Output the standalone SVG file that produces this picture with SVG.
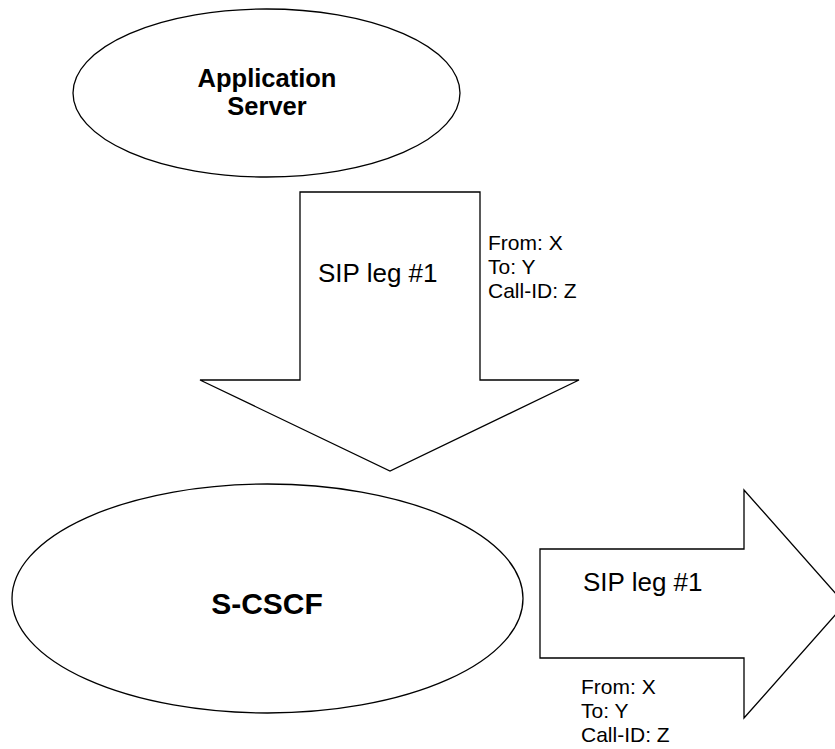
<svg xmlns="http://www.w3.org/2000/svg" width="835" height="749" viewBox="0 0 835 749">
  <style>
    .shape { fill: #ffffff; stroke: #000000; stroke-width: 1.3; }
    .bold { font-family: "Liberation Sans", Arial, sans-serif; font-weight: bold; fill: #000000; text-anchor: middle; }
    .lbl { font-family: "Liberation Sans", Arial, sans-serif; fill: #000000; }
    .big { font-size: 26px; }
    .small { font-size: 21px; }
  </style>
  <rect width="835" height="749" fill="#ffffff"/>
  <g id="node-application-server">
    <ellipse class="shape" cx="266.5" cy="93" rx="193.5" ry="84"/>
    <text class="bold" x="267" y="87" font-size="25.5">Application</text>
    <text class="bold" x="267" y="115" font-size="25.5">Server</text>
  </g>
  <g id="node-s-cscf">
    <ellipse class="shape" cx="267.5" cy="598.5" rx="255.5" ry="114.5"/>
    <text class="bold" x="267" y="614" font-size="30">S-CSCF</text>
  </g>
  <g id="connectors">
    <g id="arrow-down">
      <polygon class="shape" points="300,192 480,192 480,380 579,380 390,471 200,380 300,380"/>
      <text class="lbl big" x="318" y="282">SIP leg #1</text>
      <text class="lbl small" x="488" y="250">From: X</text>
      <text class="lbl small" x="488" y="274">To: Y</text>
      <text class="lbl small" x="488" y="298">Call-ID: Z</text>
    </g>
    <g id="arrow-right">
      <polygon class="shape" points="540,549 744,549 744,490 845,604 744,718 744,658 540,658"/>
      <text class="lbl big" x="583" y="591">SIP leg #1</text>
      <text class="lbl small" x="581" y="694">From: X</text>
      <text class="lbl small" x="581" y="718">To: Y</text>
      <text class="lbl small" x="581" y="742">Call-ID: Z</text>
    </g>
  </g>
</svg>
